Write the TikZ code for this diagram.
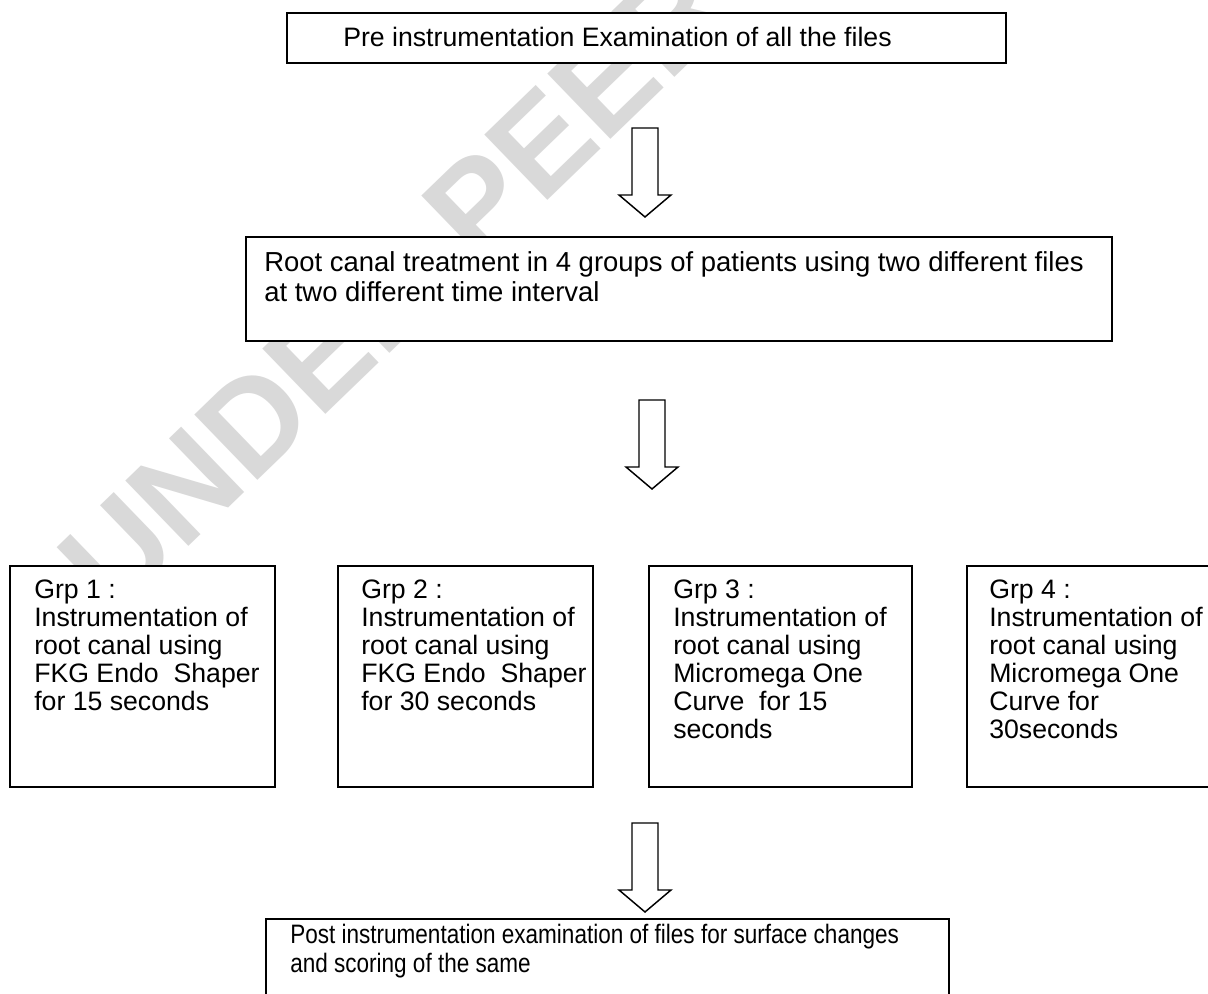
\documentclass[tikz,border=0pt]{standalone}
\usepackage{fontspec}
\setmainfont{Liberation Sans}
\usetikzlibrary{calc}
\begin{document}
\begin{tikzpicture}[x=0.75pt,y=-0.75pt,
  box/.style={draw=black, line width=1.4pt, fill=white, rectangle, inner sep=0pt, anchor=north west},
  txt/.style={anchor=base west, inner sep=0pt, font=\fontsize{20}{21}\selectfont},
  blockarrow/.style={draw=black, line width=1.1pt, fill=white, line join=miter},
  wm/.style={text=black!15, font=\fontsize{99}{99}\selectfont\bfseries, rotate=44, anchor=base west, inner sep=0pt},
  downarrow/.pic={\draw[blockarrow] (-13,0) -- (13,0) -- (13,67) -- (26,67) -- (0,89) -- (-26,67) -- (-13,67) -- cycle;}]
\useasboundingbox (0,0) rectangle (1208,994);
\clip (0,0) rectangle (1208,994);
\fill[white] (0,0) rectangle (1208,994);
% watermark
\node[wm] (wm) at (114,619) {UNDER PEER REVIEW};
% boxes
\node[box, minimum width=539.25pt, minimum height=37.5pt] (pre) at (286,12) {};
\node[box, minimum width=649.5pt, minimum height=78pt] (root) at (245,236) {};
\node[box, minimum width=198.75pt, minimum height=165.75pt] (g1) at (9,565) {};
\node[box, minimum width=191.25pt, minimum height=165.75pt] (g2) at (337,565) {};
\node[box, minimum width=197.25pt, minimum height=165.75pt] (g3) at (648,565) {};
\node[box, minimum width=198pt, minimum height=165.75pt] (g4) at (966,565) {};
\node[box, minimum width=512.25pt, minimum height=75pt] (post) at (265,918) {};
% texts
\node[txt] (pret) at ($(pre.north west)+(57,35)$) {Pre instrumentation Examination of all the files};
\node[txt, font=\fontsize{20.6}{22.5}\selectfont] (roott) at ($(root.north west)+(19,36)$) {\parbox[t]{660pt}{Root canal treatment in 4 groups of patients using two different files\\at two different time interval}};
\node[txt] (g1t) at ($(g1.north west)+(25,34)$) {\parbox[t]{190pt}{Grp 1 :\\Instrumentation of\\root canal using\\FKG Endo\ \ Shaper\\for 15 seconds}};
\node[txt] (g2t) at ($(g2.north west)+(24,34)$) {\parbox[t]{190pt}{Grp 2 :\\Instrumentation of\\root canal using\\FKG Endo\ \ Shaper\\for 30 seconds}};
\node[txt] (g3t) at ($(g3.north west)+(25,34)$) {\parbox[t]{190pt}{Grp 3 :\\Instrumentation of\\root canal using\\Micromega One\\Curve\ \ for 15\\seconds}};
\node[txt] (g4t) at ($(g4.north west)+(23,34)$) {\parbox[t]{190pt}{Grp 4 :\\Instrumentation of\\root canal using\\Micromega One\\Curve for\\30seconds}};
\node[txt, font=\fontsize{20}{21.75}\selectfont] (postt) at ($(post.north west)+(25,25)$) {\scalebox{0.845}[1]{\parbox[t]{600pt}{Post instrumentation examination of files for surface changes\\and scoring of the same}}};
% block arrows
\coordinate (a1) at (645,128);
\coordinate (a2) at (652,400);
\coordinate (a3) at (645,823);
\pic at (a1) {downarrow};
\pic at (a2) {downarrow};
\pic at (a3) {downarrow};
\end{tikzpicture}
\end{document}
